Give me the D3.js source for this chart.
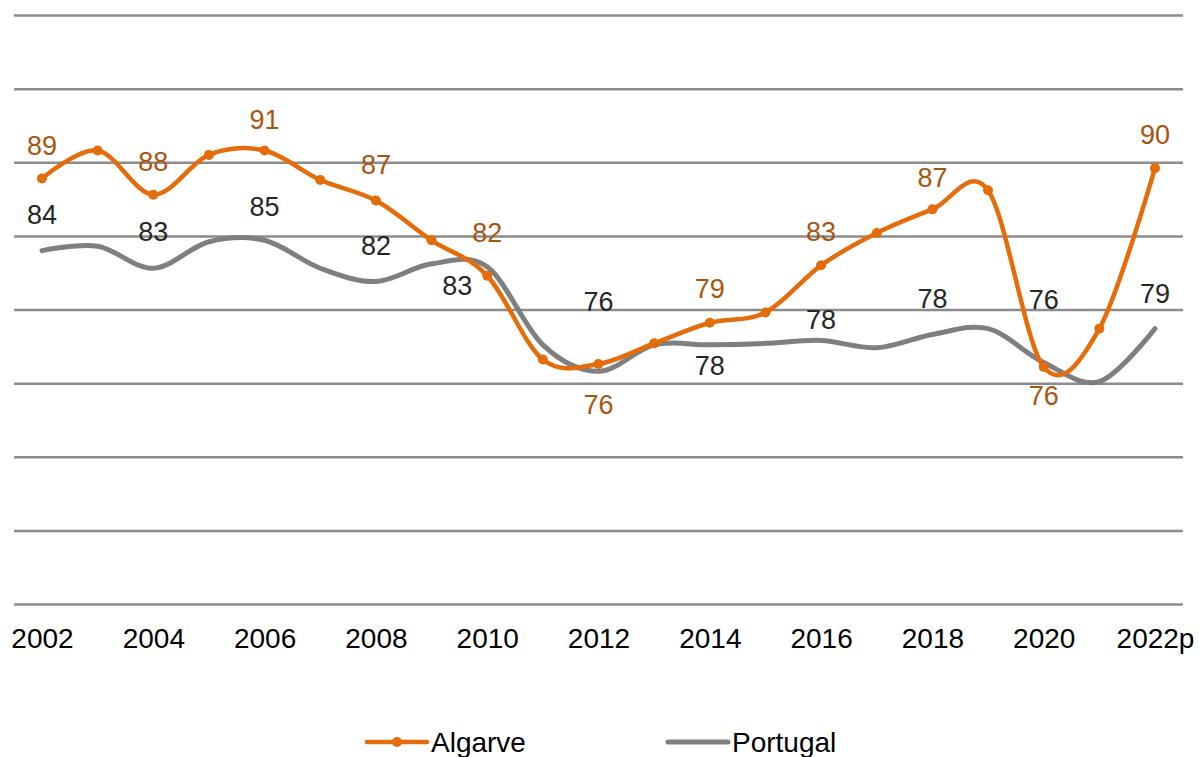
<!DOCTYPE html>
<html>
<head>
<meta charset="utf-8">
<script src="https://cdn.jsdelivr.net/npm/d3@7"></script>
<style>
  body { margin: 0; background: #fff; }
  svg { font-family: "Liberation Sans", Arial, sans-serif; }
</style>
</head>
<body>
<svg id="chart"></svg>
<script>
// Data (index values)
const years = d3.range(2002, 2023);
const tickYears = [2002, 2004, 2006, 2008, 2010, 2012, 2014, 2016, 2018, 2020, 2022];
const tickLabels = ['2002', '2004', '2006', '2008', '2010', '2012', '2014', '2016', '2018', '2020', '2022p'];
const algarve = [88.9, 90.8, 87.8, 90.5, 90.8, 88.8, 87.4, 84.7, 82.3, 76.6, 76.3,
                 77.7, 79.1, 79.8, 83.0, 85.2, 86.8, 88.1, 76.1, 78.7, 89.6];
const portugal = [84.0, 84.3, 82.8, 84.6, 84.7, 82.8, 81.9, 83.1, 82.9, 77.6, 75.8,
                  77.6, 77.6, 77.7, 77.9, 77.4, 78.3, 78.7, 76.4, 75.1, 78.7];
const seriesNames = ['Algarve', 'Portugal'];

// Label placement (pixel offsets from the point, for labelled even years)
const algarveLabelDy = [-33, -33, -31, -36, -43, 40, -34, -34, -32, 28, -34];
const portugalLabelDy = [-36, -37, -34, -36, 18, -70, 20, -21, -36, -63, -35];
const portugalLabelDx = [0, 0, 0, 0, -30, 0, 0, 0, 0, 0, 0];

const W = 1199, H = 757;
const colors = { Algarve: '#E46C0A', Portugal: '#7F7F7F' };
const labelColors = { Algarve: '#A8560F', Portugal: '#262626' };

const svg = d3.select('#chart').attr('width', W).attr('height', H);

const x = d3.scaleLinear().domain([2002, 2022]).range([42, 1155]);
const y = d3.scaleLinear().domain([60, 100]).range([604, 15]);

// Horizontal gridlines
svg.append('g')
  .attr('transform', 'translate(14,0)')
  .call(d3.axisLeft(y).tickValues(d3.range(60, 101, 5)).tickSize(-(1183 - 14)).tickFormat(''))
  .call(g => g.select('.domain').remove())
  .call(g => g.selectAll('.tick line').attr('stroke', '#8C8C8C').attr('stroke-width', 2.5));

// X axis labels
svg.append('g')
  .attr('transform', 'translate(0,604)')
  .call(d3.axisBottom(x).tickValues(tickYears).tickSize(0).tickPadding(24)
    .tickFormat((d, i) => tickLabels[i]))
  .call(g => g.select('.domain').remove())
  .call(g => g.selectAll('text')
    .attr('font-family', '"Liberation Sans", Arial, sans-serif')
    .attr('font-size', 28).attr('fill', '#000'));

const line = d3.line()
  .x((d, i) => x(years[i]))
  .y(d => y(d))
  .curve(d3.curveCatmullRom.alpha(0));

// Portugal line (drawn first, under Algarve)
svg.append('path')
  .datum(portugal)
  .attr('fill', 'none')
  .attr('stroke', colors.Portugal)
  .attr('stroke-width', 5)
  .attr('stroke-linecap', 'round')
  .attr('d', line);

// Algarve line + markers
svg.append('path')
  .datum(algarve)
  .attr('fill', 'none')
  .attr('stroke', colors.Algarve)
  .attr('stroke-width', 4.5)
  .attr('stroke-linecap', 'round')
  .attr('d', line);

svg.selectAll('.dot')
  .data(algarve)
  .join('circle')
  .attr('class', 'dot')
  .attr('cx', (d, i) => x(years[i]))
  .attr('cy', d => y(d))
  .attr('r', 5)
  .attr('fill', colors.Algarve);

// Data labels on even years
const fmt = d3.format('.0f');
function addLabels(values, dys, dxs, color) {
  const idx = years.map((yr, i) => i).filter(i => years[i] % 2 === 0);
  svg.append('g').selectAll('text')
    .data(idx)
    .join('text')
    .attr('x', (i, k) => x(years[i]) + (dxs ? dxs[k] : 0))
    .attr('y', (i, k) => y(values[i]) + dys[k])
    .attr('dy', '0.36em')
    .attr('text-anchor', 'middle')
    .attr('font-size', 27)
    .attr('fill', color)
    .text(i => fmt(values[i]));
}
addLabels(portugal, portugalLabelDy, portugalLabelDx, labelColors.Portugal);
addLabels(algarve, algarveLabelDy, null, labelColors.Algarve);

// Legend
const legend = svg.append('g').attr('transform', 'translate(0,742)');
const legendX = [367, 668];
seriesNames.forEach((name, i) => {
  const g = legend.append('g').attr('transform', `translate(${legendX[i]},0)`);
  g.append('line')
    .attr('x1', 0).attr('x2', 60)
    .attr('stroke', colors[name])
    .attr('stroke-width', name === 'Portugal' ? 5 : 4.5)
    .attr('stroke-linecap', 'round');
  if (name === 'Algarve') {
    g.append('circle').attr('cx', 30).attr('r', 5).attr('fill', colors[name]);
  }
  g.append('text')
    .attr('x', 64)
    .attr('dy', '0.36em')
    .attr('font-size', 28)
    .attr('fill', '#000')
    .text(name);
});
</script>
</body>
</html>
